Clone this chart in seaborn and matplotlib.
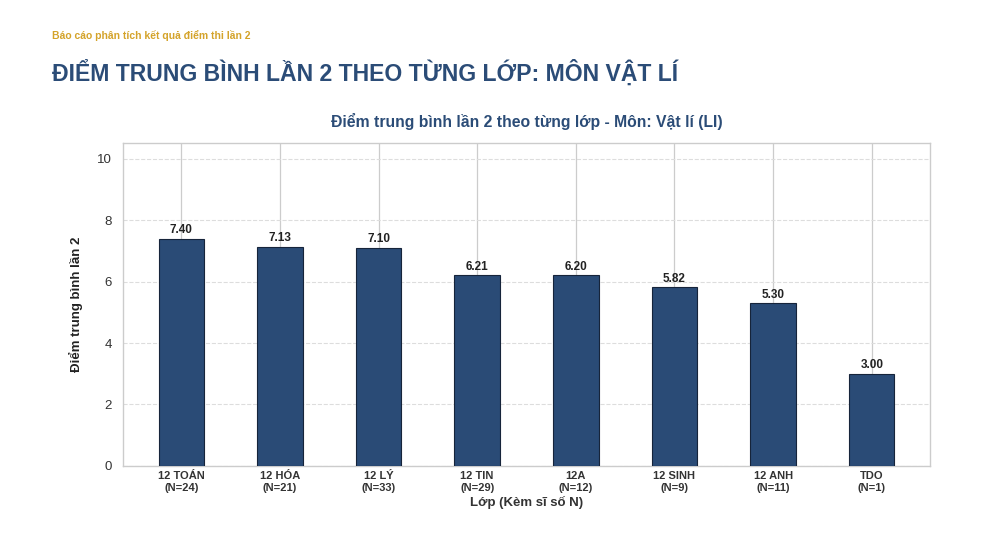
import matplotlib
matplotlib.use("Agg")
import matplotlib.pyplot as plt
import seaborn as sns
import pandas as pd

# --- DATA ---
lop = ["12 TOÁN", "12 HÓA", "12 LÝ", "12 TIN", "12A", "12 SINH", "12 ANH", "TDO"]
si_so = [24, 21, 33, 29, 12, 9, 11, 1]
diem_tb = [7.40, 7.13, 7.10, 6.21, 6.20, 5.82, 5.30, 3.00]

nhan = [f"{l}\n(N={n})" for l, n in zip(lop, si_so)]
df = pd.DataFrame({"lop": nhan, "diem": diem_tb})

sns.set_style("whitegrid")
plt.rcParams['font.family'] = ['Liberation Sans', 'DejaVu Sans']

fig = plt.figure(figsize=(10, 5.58), dpi=100)
ax = fig.add_axes([0.123, 0.165, 0.807, 0.578])

sns.barplot(data=df, x="lop", y="diem", color="#2A4B76", saturation=1, width=0.46,
            edgecolor="#16243a", linewidth=0.8, ax=ax, zorder=3)

for i, v in enumerate(diem_tb):
    ax.text(i, v + 0.08, f"{v:.2f}", ha="center", va="bottom",
            fontsize=8.5, fontweight="bold", color="#222222", zorder=4)

ax.set_ylim(0, 10.5)
ax.set_xlim(-0.59, 7.59)
ax.set_yticks([0, 2, 4, 6, 8, 10])
ax.grid(axis="y", linestyle="--", color="#dddddd", linewidth=0.8)
ax.grid(axis="x", linestyle="-", color="#cccccc", linewidth=0.9)
ax.set_axisbelow(True)
for s in ax.spines.values():
    s.set_color("#cccccc")
    s.set_linewidth(1.0)

ax.tick_params(axis="x", labelsize=8, length=0, pad=4)
ax.tick_params(axis="y", labelsize=9.5, length=0, pad=8, labelcolor="#333333")
for t in ax.get_xticklabels():
    t.set_fontweight("bold")
    t.set_color("#333333")

ax.set_xlabel("Lớp (Kèm sĩ số N)", fontsize=9.5, fontweight="bold", color="#333333", labelpad=2)
ax.set_ylabel("Điểm trung bình lần 2", fontsize=9.5, fontweight="bold", color="#222222", labelpad=10)
ax.set_title("Điểm trung bình lần 2 theo từng lớp - Môn: Vật lí (LI)", fontsize=11.3,
             fontweight="bold", color="#2B4C77", pad=12)

fig.text(0.052, 0.93, "Báo cáo phân tích kết quả điểm thi lần 2", fontsize=7.5,
         fontweight="bold", color="#D4A32A")
fig.text(0.052, 0.855, "ĐIỂM TRUNG BÌNH LẦN 2 THEO TỪNG LỚP: MÔN VẬT LÍ", fontsize=16.6,
         fontweight="bold", color="#2B4C77")

plt.savefig("out.png", dpi=100)
plt.close()
